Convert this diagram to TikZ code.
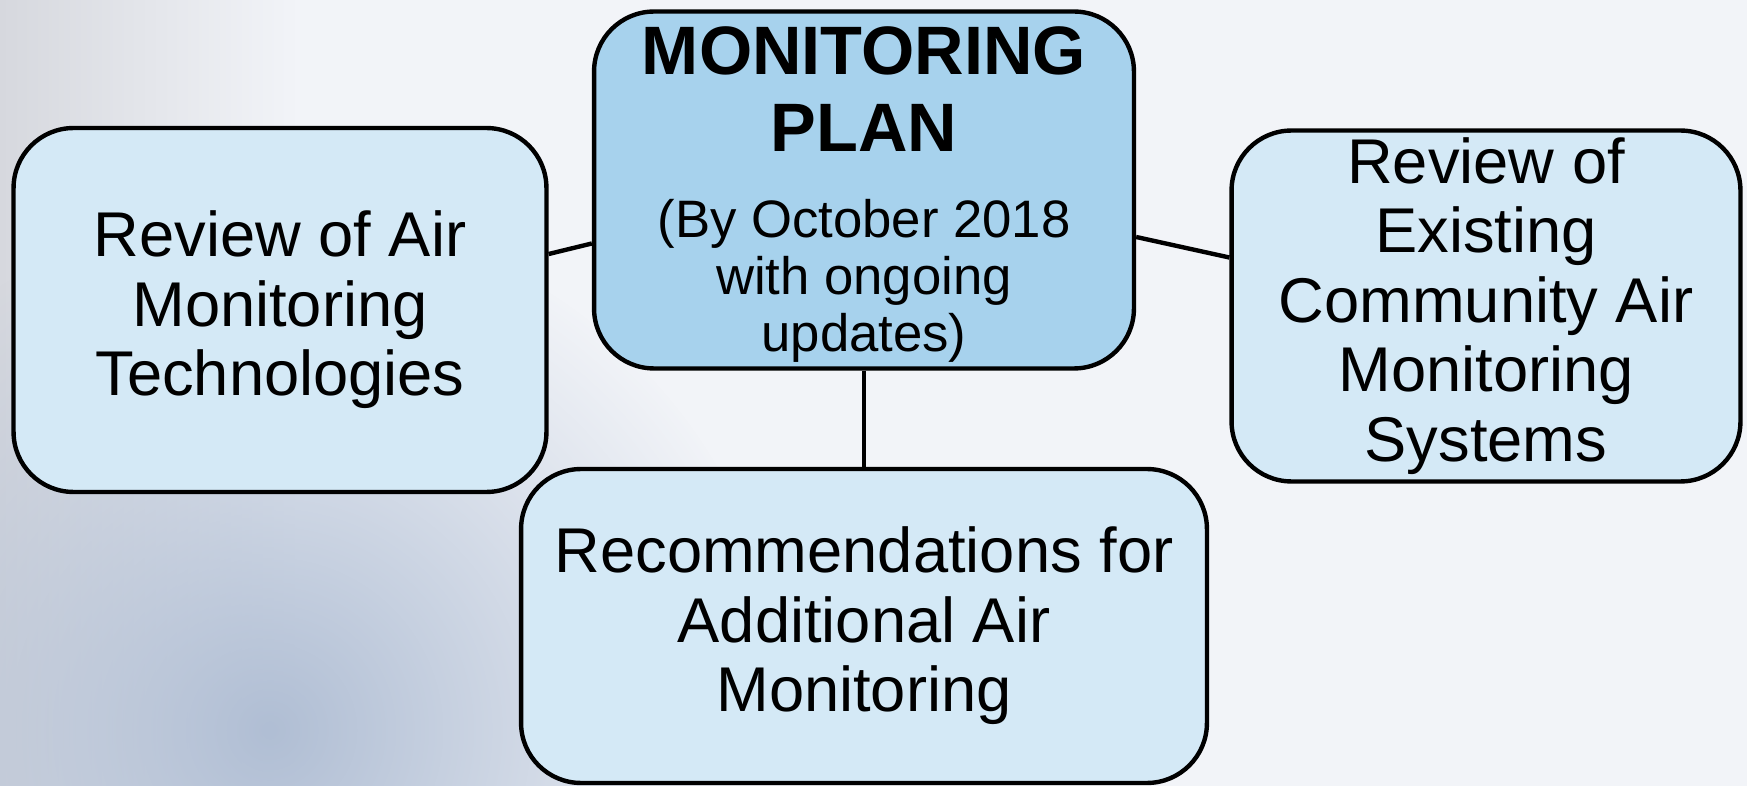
\documentclass[tikz,border=0pt]{standalone}
\usepackage{fontspec}
\setmainfont{Liberation Sans}
\usetikzlibrary{fadings}
\definecolor{planblue}{RGB}{167,210,237}
\definecolor{taskblue}{RGB}{212,233,246}
\definecolor{slidebg}{RGB}{242,244,248}
\definecolor{slidegray}{RGB}{214,216,222}
\definecolor{slideblob}{RGB}{176,190,212}
\tikzfading[name=softblob, inner color=transparent!0, outer color=transparent!100]
\tikzset{
  roundbox/.style={draw, rounded corners=1.2cm, line width=2.5pt, align=center, inner sep=2pt},
  taskbox/.style={roundbox, fill=taskblue, font=\fontsize{36}{39.5}\selectfont},
  planbox/.style={roundbox, fill=planblue},
  plantitle/.style={align=center, inner sep=0pt, font=\bfseries\fontsize{39}{44}\selectfont},
  plandate/.style={align=center, inner sep=0pt, font=\fontsize{30}{32.5}\selectfont},
  link/.style={line width=2.5pt}
}
\begin{document}
\begin{tikzpicture}[x=0.02cm, y=-0.02cm]
  % slide background
  \useasboundingbox (0,0) rectangle (1747,786);
  \fill[slidebg] (0,0) rectangle (1747,786);
  \shade[left color=slidegray, right color=slidebg] (0,0) rectangle (300,786);
  \fill[slideblob, path fading=softblob] (270,730) circle (520);

  % boxes
  \node[planbox, minimum width=10.8cm, minimum height=7.14cm] (plan) at (864,190) {};
  \node[plantitle] (title) at (864,89) {MONITORING\\PLAN};
  \node[plandate] (date) at (864,281) {(By October 2018\\with ongoing\\updates)};

  \node[taskbox, minimum width=10.66cm, minimum height=7.28cm] (tech) at (280,310)
    {Review of Air\\Monitoring\\Technologies};
  \node[taskbox, minimum width=10.18cm, minimum height=7.02cm] (existing) at (1486,306)
    {Review of\\Existing\\Community Air\\Monitoring\\Systems};
  \node[taskbox, minimum width=13.72cm, minimum height=6.28cm] (recom) at (864,626)
    {Recommendations for\\Additional Air\\Monitoring};

  % connectors
  \draw[link] ([yshift=1.12cm]tech.east) -- ([yshift=-1.07cm]plan.west);
  \draw[link] ([yshift=-0.94cm]plan.east) -- ([yshift=0.97cm]existing.west);
  \draw[link] (plan.south) -- (recom.north);
\end{tikzpicture}
\end{document}
